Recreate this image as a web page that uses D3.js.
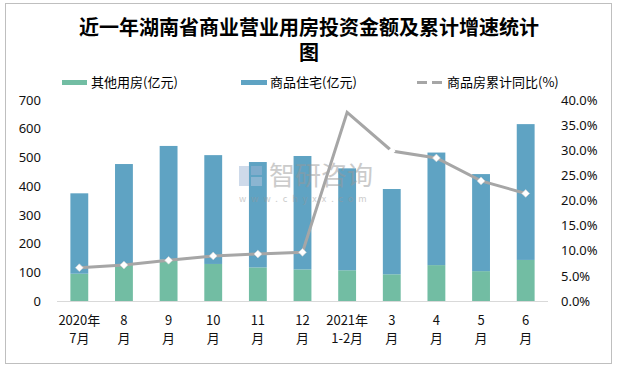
<!DOCTYPE html>
<html><head><meta charset="utf-8">
<script src="https://cdn.jsdelivr.net/npm/d3@7/dist/d3.min.js"></script>
<style>
html,body{margin:0;padding:0;background:#fff;}
svg{display:block;font-family:"Noto Sans CJK SC","Noto Sans",sans-serif;}
</style></head>
<body>
<svg id="c" width="617" height="368"></svg>
<script>
const categories = ["2020年\n7月","8\n月","9\n月","10\n月","11\n月","12\n月","2021年\n1-2月","3\n月","4\n月","5\n月","6\n月"];
const otherUse = [95,128,144,129,117,110,107,93,125,104,143];
const residential = [280,349,396,379,367,395,355,297,392,338,473];
const growth = [0.0663,0.0716,0.081,0.0896,0.0935,0.0969,0.3755,0.2985,0.2846,0.239,0.214];
const leftTicks = [0,100,200,300,400,500,600,700];
const rightTicks = [0,0.05,0.1,0.15,0.2,0.25,0.3,0.35,0.4];
const seriesNames = ["其他用房(亿元)","商品住宅(亿元)","商品房累计同比(%)"];
const title = ["近一年湖南省商业营业用房投资金额及累计增速统计","图"];

(function(){
const svg = d3.select("#c");
const C = {green:"#72BDA3", blue:"#5FA3C3", line:"#A6A6A6", text:"#111"};
const pL = 57, pR = 548, pT = 100, pB = 301;

svg.append("rect").attr("x",5.5).attr("y",3.5).attr("width",606).attr("height",360)
  .attr("fill","#fff").attr("stroke","#BFBFBF").attr("stroke-width",1);

// title (one text, two lines)
svg.append("text").attr("text-anchor","middle").attr("font-size",20).attr("font-weight","bold").attr("fill","#000")
  .selectAll("tspan").data(title).join("tspan")
  .attr("x",309).attr("y",(d,i)=>35+i*25).text(d=>d);

const x = d3.scaleBand().domain(categories).range([pL,pR]).paddingInner(0.6).paddingOuter(0.3);
const yL = d3.scaleLinear().domain([0,700]).range([pB,pT]);
const yR = d3.scaleLinear().domain([0,0.4]).range([pB,pT]);

// bars
const data = categories.map((c,i)=>({c, a:otherUse[i], b:residential[i], g:growth[i]}));
const stack = d3.stack().keys(["a","b"])(data);
const colors = [C.green, C.blue];
svg.append("g").selectAll("g").data(stack).join("g").attr("fill",(d,i)=>colors[i])
  .selectAll("rect").data(d=>d).join("rect")
  .attr("x",d=>x(d.data.c)).attr("width",x.bandwidth())
  .attr("y",d=>yL(d[1])).attr("height",d=>yL(d[0])-yL(d[1]));

// watermark
const wm = svg.append("g").attr("opacity",0.5);
wm.append("rect").attr("x",239).attr("y",166).attr("width",10).attr("height",20).attr("fill","#9FB6D6");
wm.append("rect").attr("x",251).attr("y",166).attr("width",11).attr("height",9).attr("fill","#9FB6D6");
wm.append("rect").attr("x",251).attr("y",177).attr("width",11).attr("height",9).attr("fill","#B8C8E0");
wm.append("text").attr("x",269).attr("y",185).attr("font-size",26).attr("fill","#999").text("智研咨询");
wm.append("text").attr("x",239).attr("y",202).attr("font-size",9).attr("fill","#999")
  .attr("letter-spacing","5").text("www.chyxx.com");

// x axis line
svg.append("line").attr("x1",pL).attr("x2",pR).attr("y1",pB+0.5).attr("y2",pB+0.5)
  .attr("stroke","#D9D9D9").attr("stroke-width",1);

// left axis
const gl = svg.append("g").attr("transform","translate(41,0)")
  .call(d3.axisLeft(yL).tickValues(leftTicks).tickSize(0).tickPadding(0));
gl.select(".domain").remove();
gl.selectAll("text").attr("font-size",13).attr("fill",C.text).attr("font-family","'Noto Sans','DejaVu Sans',sans-serif");

// right axis
const gr = svg.append("g").attr("transform","translate(561,0)")
  .call(d3.axisRight(yR).tickValues(rightTicks).tickFormat(d3.format(".1%")).tickSize(0).tickPadding(0));
gr.select(".domain").remove();
gr.selectAll("text").attr("font-size",13).attr("fill",C.text).attr("font-family","'Noto Sans','DejaVu Sans',sans-serif");

// x labels
const xl = svg.append("g").selectAll("text").data(categories).join("text")
  .attr("text-anchor","middle").attr("font-size",13).attr("fill",C.text)
  .attr("transform",d=>`translate(${x(d)+x.bandwidth()/2},0)`);
xl.selectAll("tspan").data(d=>d.split("\n")).join("tspan")
  .attr("x",0).attr("y",(d,i)=>325+i*18).text(d=>d);

// line
const cx = d=>x(d.c)+x.bandwidth()/2;
svg.append("path").datum(data).attr("fill","none").attr("stroke",C.line).attr("stroke-width",3)
  .attr("d",d3.line().x(cx).y(d=>yR(d.g)));
svg.append("g").selectAll("path").data(data.filter((d,i)=>i!==6)).join("path")
  .attr("transform",d=>`translate(${cx(d)},${yR(d.g)}) rotate(45)`)
  .attr("d",d3.symbol(d3.symbolSquare,30))
  .attr("fill","#fff").attr("stroke",(d)=>d.c.startsWith("3")?"none":"#d4d4d4").attr("stroke-width",0.6);

// legend
const lg = svg.append("g").attr("font-size",13).attr("fill","#000");
lg.append("rect").attr("x",62).attr("y",80).attr("width",25).attr("height",5).attr("fill",C.green);
lg.append("text").attr("x",91).attr("y",87).text(seriesNames[0]);
lg.append("rect").attr("x",241).attr("y",80).attr("width",26).attr("height",5).attr("fill",C.blue);
lg.append("text").attr("x",270).attr("y",87).text(seriesNames[1]);
lg.append("line").attr("x1",417).attr("x2",446).attr("y1",82.5).attr("y2",82.5)
  .attr("stroke",C.line).attr("stroke-width",3).attr("stroke-dasharray","10,5");
lg.append("text").attr("x",447).attr("y",87).text(seriesNames[2]);
})();
</script>
</body></html>
